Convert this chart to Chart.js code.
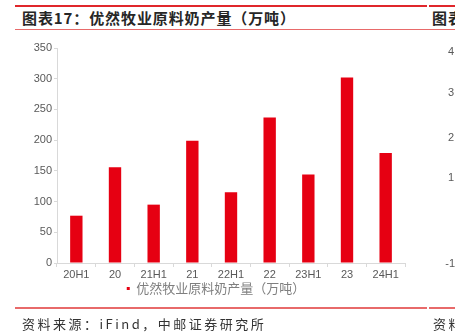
<!DOCTYPE html>
<html><head><meta charset="utf-8">
<script src="https://cdn.jsdelivr.net/npm/chart.js@4/dist/chart.umd.min.js"></script>
<style>
html,body{margin:0;padding:0;background:#fff;}
body{width:455px;height:335px;position:relative;overflow:hidden;font-family:"Noto Sans CJK SC",sans-serif;}
.abs{position:absolute;white-space:nowrap;}
#wrap{position:absolute;left:0;top:0;width:455px;height:335px;}
.title{font-size:15px;font-weight:bold;color:#262626;letter-spacing:0.9px;line-height:16px;}
.src{font-size:13px;color:#333;letter-spacing:2.5px;line-height:14px;}
.rt{font-family:"Liberation Sans",Arial,sans-serif;font-size:11px;color:#595959;line-height:12px;}
</style></head>
<body>
<div class="abs" style="left:15px;top:5px;width:412px;height:2px;background:#e0262b"></div>
<div class="abs" style="left:429px;top:5px;width:26px;height:2px;background:#e0262b"></div>
<div class="abs title" style="left:22px;top:10px;">图表17：优然牧业原料奶产量（万吨）</div>
<div class="abs title" style="left:432px;top:10px;">图表</div>
<div class="abs" style="left:15px;top:29px;width:440px;height:1px;background:#e86a6a"></div>
<div id="wrap"><canvas id="c"></canvas></div>
<div class="abs rt" style="right:1px;top:45px;">4</div>
<div class="abs rt" style="right:1px;top:86px;">3</div>
<div class="abs rt" style="right:1px;top:131px;">2</div>
<div class="abs rt" style="right:1px;top:171px;">1</div>
<div class="abs rt" style="right:0px;top:257px;">-1</div>
<div class="abs" style="left:15px;top:307px;width:412px;height:1.5px;background:#e86a6a"></div>
<div class="abs" style="left:429px;top:307px;width:26px;height:1.5px;background:#e86a6a"></div>
<div class="abs src" style="left:22px;top:317px;">资料来源：iFind，中邮证券研究所</div>
<div class="abs src" style="left:433px;top:317px;">资料</div>
<script>
const categories = ["20H1","20","21H1","21","22H1","22","23H1","23","24H1"];
const milkOutput = [77, 156, 95, 199, 115, 237, 144, 302, 179];
const seriesName = "优然牧业原料奶产量（万吨）";
const yMax = 350, yStep = 50;

new Chart(document.getElementById('c'), {
  type: 'bar',
  data: {
    labels: categories,
    datasets: [{
      label: seriesName,
      data: milkOutput,
      backgroundColor: '#e60012',
      borderWidth: 0,
      barPercentage: 0.32,
      categoryPercentage: 1
    }]
  },
  options: {
    responsive: true,
    maintainAspectRatio: false,
    animation: false,
    layout: { padding: { left: 27, right: 50, top: 48, bottom: 30 } },
    plugins: {
      tooltip: { enabled: false },
      legend: {
        position: 'bottom',
        labels: {
          boxWidth: 3, boxHeight: 3, padding: 1,
          color: '#7f7f7f',
          font: { family: '"Noto Sans CJK SC", sans-serif', size: 13 }
        }
      }
    },
    scales: {
      x: {
        grid: { display: true, drawOnChartArea: false, drawTicks: true, tickLength: 4, color: '#d9d9d9', offset: true },
        border: { display: true, color: '#d9d9d9', width: 1 },
        ticks: { color: '#595959', padding: 1, maxRotation: 0, autoSkip: false,
                 font: { family: '"Liberation Sans", Arial, sans-serif', size: 11 } },
        afterFit: s => { s.height = 18; }
      },
      y: {
        min: 0, max: yMax,
        grid: { display: true, drawOnChartArea: false, drawTicks: true, tickLength: 3, color: '#d9d9d9' },
        border: { display: true, color: '#d9d9d9', width: 1 },
        ticks: { stepSize: yStep, color: '#595959', padding: 2,
                 font: { family: '"Liberation Sans", Arial, sans-serif', size: 11 } },
        afterFit: s => { s.width = 30; }
      }
    }
  }
});
</script>
</body></html>
